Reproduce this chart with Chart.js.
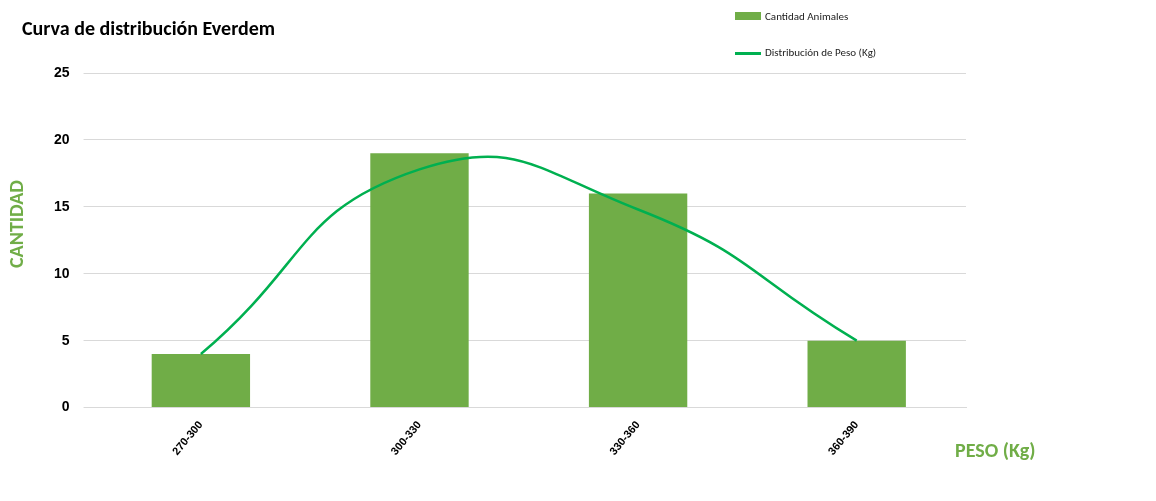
<!DOCTYPE html>
<html><head><meta charset="utf-8">
<script src="https://cdn.jsdelivr.net/npm/chart.js@4"></script>
<style>
body{margin:0;background:#fff;font-family:Calibri,'Liberation Sans',sans-serif}
#wrap{position:relative;width:1156px;height:501px}
.t{position:absolute;white-space:nowrap}
</style></head><body>
<div id="wrap">
<canvas id="c" width="1156" height="501"></canvas>
<div class="t" style="left:22px;top:16px;font-size:20px;font-weight:bold;color:#000">Curva de distribución Everdem</div>
<div class="t" style="left:735px;top:10px;font-size:11px;color:#222"><span style="display:inline-block;width:26px;height:8px;background:#70ad47;margin-right:4px"></span>Cantidad Animales</div>
<div class="t" style="left:735px;top:46px;font-size:11px;color:#222"><span style="display:inline-block;width:26px;height:3px;background:#00b050;vertical-align:middle;margin-right:4px"></span>Distribución de Peso (Kg)</div>
<div class="t" style="left:-28px;top:212px;font-size:20px;font-weight:bold;color:#70ad47;transform:rotate(-90deg)">CANTIDAD</div>
<div class="t" style="left:955px;top:438px;font-size:20px;font-weight:bold;color:#70ad47">PESO (Kg)</div>
</div>
<script>
const categorias = ['270-300', '300-330', '330-360', '360-390'];
const cantidadAnimales = [4, 19, 16, 5];
const distribucionPeso = [4, 17.8, 14.8, 5];
const yTicks = [0, 5, 10, 15, 20, 25];

new Chart(document.getElementById('c'), {
  type: 'bar',
  data: {
    labels: categorias,
    datasets: [
      { type: 'line', label: 'Distribución de Peso (Kg)', data: distribucionPeso,
        borderColor: '#00b050', borderWidth: 2.5, tension: 0.5, pointRadius: 0, fill: false, order: 0 },
      { label: 'Cantidad Animales', data: cantidadAnimales, backgroundColor: '#70ad47',
        barPercentage: 0.45, categoryPercentage: 1, order: 1 },
    ]
  },
  options: {
    responsive: false, animation: false,
    layout: { padding: { left: 40, right: 190, top: 73, bottom: 40 } },
    plugins: { legend: { display: false }, tooltip: { enabled: false } },
    scales: {
      x: {
        grid: { display: false }, border: { color: '#d9d9d9' },
        ticks: { color: '#000', font: { size: 11, weight: 'bold' }, maxRotation: 50, minRotation: 50 }
      },
      y: {
        min: 0, max: 25,
        afterBuildTicks: ax => { ax.ticks = yTicks.map(v => ({ value: v })); },
        grid: { color: '#d9d9d9' }, border: { display: false },
        ticks: { color: '#000', font: { size: 14, weight: 'bold' }, padding: 14 }
      }
    }
  }
});
</script>
</body></html>
